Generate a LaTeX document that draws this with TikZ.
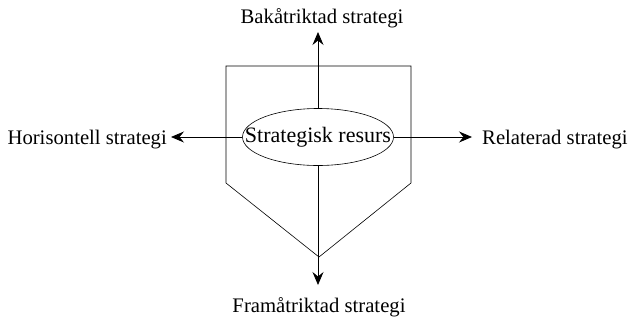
\documentclass[tikz,border=0pt]{standalone}
\usepackage{fontspec}
\setmainfont{Liberation Serif}
\usetikzlibrary{arrows.meta,shapes.geometric}
\begin{document}
\begin{tikzpicture}[x=1pt,y=-1pt,
  lbl/.style={font=\fontsize{20.7}{24}\selectfont, inner sep=0pt},
  flow/.style={line width=0.8pt,-{Stealth[length=13pt,width=11pt,inset=4.5pt]}},
  outline/.style={line width=0.6pt}]
\useasboundingbox (0,0) rectangle (629,322);
% five-sided frame around the central resource
\draw[outline] (226,66) -- (411,66) -- (411,183) -- (319,257) -- (226,183) -- cycle;
% central resource (text box kept zero-width so the ellipse keeps its size)
\node[ellipse, draw, line width=0.6pt, minimum width=151pt, minimum height=57pt, inner sep=0pt, fill=white]
  (res) at (318,137) {\fontsize{22}{26}\selectfont\makebox[0pt]{Strategisk resurs}};
% strategy directions
\node[lbl, anchor=base] (up) at (322,23) {Bakåtriktad strategi};
\node[lbl, anchor=base] (down) at (319,312) {Framåtriktad strategi};
\node[lbl, anchor=base east] (left) at (167,144) {Horisontell strategi};
\node[lbl, anchor=base west] (right) at (482,144) {Relaterad strategi};
\coordinate (tu) at (318,32);
\coordinate (td) at (318,285);
\coordinate (tl) at (171,137);
\coordinate (tr) at (472,137);
\draw[flow] (res.north) -- (tu);
\draw[flow] (res.south) -- (td);
\draw[flow] (res.west) -- (tl);
\draw[flow] (res.east) -- (tr);
\end{tikzpicture}
\end{document}
